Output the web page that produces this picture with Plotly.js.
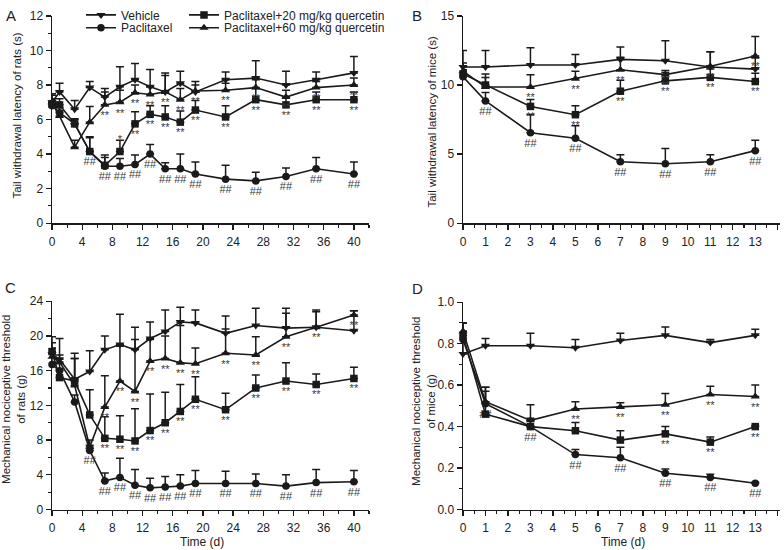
<!DOCTYPE html>
<html>
<head>
<meta charset="utf-8">
<script src="https://cdn.plot.ly/plotly-3.0.1.min.js"></script>
<style>html,body{margin:0;padding:0;background:#fff;}#chart{width:784px;height:550px;}</style>
</head>
<body>
<div id="chart"></div>
<script>
// ---------- DATA ----------
// Rats (panels A and C): days
const daysRats = [0, 1, 3, 5, 7, 9, 11, 13, 15, 17, 19, 23, 27, 31, 35, 40];
// Mice (panels B and D): days
const daysMice = [0, 1, 3, 5, 7, 9, 11, 13];

const seriesNames = ["Vehicle", "Paclitaxel", "Paclitaxel+20 mg/kg quercetin", "Paclitaxel+60 mg/kg quercetin"];

// Panel A: tail withdrawal latency of rats (s)
const aVehicle      = [7.0, 7.6, 6.6, 7.85, 7.3, 7.9, 8.3, 7.9, 7.6, 8.1, 7.6, 8.3, 8.4, 8.0, 8.3, 8.7];
const aVehicleErr   = [0.5, 0.5, 0.5, 0.35, 0.5, 1.15, 0.95, 1.0, 1.1, 0.7, 0.6, 0.45, 1.0, 0.8, 0.45, 0.95];
const aPaclitaxel   = [6.8, 6.4, 5.75, 4.15, 3.3, 3.3, 3.4, 4.0, 3.15, 3.15, 2.85, 2.55, 2.45, 2.7, 3.15, 2.85];
const aPaclitaxelErr= [0.3, 0.3, 0.3, 0.8, 0.5, 0.45, 0.55, 0.55, 0.35, 0.85, 0.7, 0.8, 0.5, 0.5, 0.65, 0.7];
const aQ20          = [6.9, 6.85, 5.75, 4.15, 3.35, 4.15, 5.75, 6.3, 6.15, 5.85, 6.55, 6.15, 7.15, 6.85, 7.15, 7.15];
const aQ20Err       = [0.3, 0.35, 0.25, 0.85, 0.6, 0.65, 0.7, 0.5, 0.65, 0.65, 0.55, 0.65, 0.65, 0.45, 0.45, 0.45];
const aQ60          = [7.0, 6.2, 4.4, 5.85, 6.85, 7.0, 7.55, 7.45, 7.6, 7.15, 7.65, 7.7, 7.85, 7.3, 7.85, 8.0];
const aQ60Err       = [0.4, 0.3, 0.4, 0.9, 0.75, 0.7, 0.45, 0.45, 0.95, 0.65, 0.35, 0.4, 0.45, 0.4, 0.35, 0.4];
const aSigPaclitaxel= ["", "", "", "##", "##", "##", "##", "##", "##", "##", "##", "##", "##", "##", "##", "##"];
const aSigQ20       = ["", "", "", "", "", "*", "**", "**", "**", "**", "**", "**", "**", "**", "**", "**"];
const aSigQ60       = ["", "", "", "", "**", "**", "**", "**", "**", "**", "**", "**", "**", "**", "**", "**"];

// Panel B: tail withdrawal latency of mice (s)
const bVehicle      = [11.3, 11.3, 11.45, 11.45, 11.85, 11.75, 11.3, 11.15];
const bVehicleErr   = [1.2, 1.2, 1.25, 0.75, 0.9, 1.45, 1.1, 0.8];
const bPaclitaxel   = [10.6, 8.85, 6.55, 6.15, 4.45, 4.3, 4.45, 5.25];
const bPaclitaxelErr= [0.5, 0.6, 1.3, 0.9, 0.5, 1.1, 0.5, 0.75];
const bQ20          = [10.8, 10.0, 8.45, 7.85, 9.55, 10.3, 10.55, 10.25];
const bQ20Err       = [0.6, 0.8, 0.5, 0.65, 0.8, 0.6, 0.6, 0.6];
const bQ60          = [11.0, 9.85, 9.85, 10.45, 11.1, 10.75, 11.35, 12.1];
const bQ60Err       = [0.6, 0.7, 0.9, 0.55, 0.9, 0.3, 1.05, 1.4];
const bSigPaclitaxel= ["", "##", "##", "##", "##", "##", "##", "##"];
const bSigQ20       = ["", "", "**", "**", "**", "**", "**", "**"];
const bSigQ60       = ["", "", "**", "**", "**", "**", "**", "**"];

// Panel C: mechanical nociceptive threshold of rats (g)
const cVehicle      = [17.9, 17.3, 15.0, 15.9, 18.4, 19.0, 18.4, 19.7, 20.5, 21.6, 21.5, 20.3, 21.2, 20.9, 21.0, 20.6];
const cVehicleErr   = [2.0, 2.4, 3.0, 2.4, 1.6, 3.5, 2.6, 1.9, 2.5, 1.7, 1.5, 2.0, 2.0, 2.3, 2.0, 2.3];
const cPaclitaxel   = [16.7, 16.0, 12.4, 6.8, 3.3, 3.7, 2.8, 2.5, 2.6, 2.7, 3.0, 3.0, 3.0, 2.7, 3.1, 3.2];
const cPaclitaxelErr= [0.8, 0.8, 0.8, 0.6, 0.9, 2.2, 1.8, 1.1, 1.2, 1.3, 1.5, 1.4, 1.1, 1.3, 1.5, 1.3];
const cQ20          = [18.2, 15.2, 14.8, 10.9, 8.2, 8.1, 7.9, 9.1, 10.0, 11.3, 12.7, 11.5, 14.0, 14.8, 14.4, 15.1];
const cQ20Err       = [1.0, 1.0, 2.6, 2.9, 2.5, 2.7, 3.7, 4.2, 3.5, 3.1, 2.6, 1.9, 1.5, 2.1, 1.2, 1.3];
const cQ60          = [17.6, 17.0, 14.3, 7.2, 11.8, 14.8, 13.6, 17.1, 17.4, 16.9, 16.8, 18.0, 17.8, 19.9, 21.0, 22.4];
const cQ60Err       = [1.0, 0.8, 3.1, 0.8, 3.6, 4.0, 6.0, 2.5, 2.6, 4.3, 1.8, 2.8, 2.1, 2.7, 1.8, 0.5];
const cSigPaclitaxel= ["", "", "", "##", "##", "##", "##", "##", "##", "##", "##", "##", "##", "##", "##", "##"];
const cSigQ20       = ["", "", "", "", "**", "**", "**", "**", "**", "**", "**", "**", "**", "**", "**", "**"];
const cSigQ60       = ["", "", "", "", "**", "**", "**", "**", "**", "**", "**", "**", "**", "**", "**", "**"];

// Panel D: mechanical nociceptive threshold of mice (g)
const dVehicle      = [0.75, 0.79, 0.79, 0.78, 0.815, 0.84, 0.805, 0.84];
const dVehicleErr   = [0.11, 0.035, 0.06, 0.04, 0.035, 0.04, 0.015, 0.03];
const dPaclitaxel   = [0.82, 0.51, 0.40, 0.265, 0.25, 0.175, 0.155, 0.127];
const dPaclitaxelErr= [0.08, 0.06, 0.03, 0.025, 0.05, 0.02, 0.015, 0.005];
const dQ20          = [0.84, 0.46, 0.40, 0.38, 0.335, 0.365, 0.325, 0.40];
const dQ20Err       = [0.06, 0.13, 0.04, 0.04, 0.045, 0.035, 0.025, 0.005];
const dQ60          = [0.86, 0.52, 0.43, 0.485, 0.495, 0.505, 0.555, 0.545];
const dQ60Err       = [0.04, 0.07, 0.075, 0.035, 0.02, 0.055, 0.04, 0.055];
const dSigPaclitaxel= ["", "##", "##", "##", "##", "##", "##", "##"];
const dSigQ20       = ["", "", "", "", "", "**", "**", "**"];
const dSigQ60       = ["", "", "", "**", "**", "**", "**", "**"];

// ---------- STYLE ----------
const FONT = "Arial, 'Liberation Sans', Helvetica, sans-serif";
const INK = "#1a1a1a";
const symbols = ["triangle-down", "circle", "square", "triangle-up"];
const sizes = [8, 7.5, 7.5, 8];
const legendOf = ["legend", "legend3", "legend2", "legend4"];

function series(idx, days, mean, err, sig, xa, ya, showLegend) {
  const s = sig || mean.map(() => "");
  return {
    type: "scatter",
    mode: "lines+markers+text",
    name: seriesNames[idx],
    x: days, y: mean,
    xaxis: xa, yaxis: ya,
    legend: legendOf[idx],
    showlegend: showLegend,
    cliponaxis: false,
    line: {color: INK, width: 1.6},
    marker: {symbol: symbols[idx], size: sizes[idx], color: INK, line: {width: 0}},
    error_y: {type: "data", symmetric: false, array: err, arrayminus: err.map(() => 0),
              color: INK, thickness: 1.5, width: 4},
    text: s,
    textposition: s.map(t => t === "*" ? "top center" : "bottom center"),
    textfont: {family: FONT, size: 11, color: "#3a3a3a"},
    hoverinfo: "x+y+name"
  };
}

const traces = [
  series(0, daysRats, aVehicle, aVehicleErr, null, "x", "y", true),
  series(1, daysRats, aPaclitaxel, aPaclitaxelErr, aSigPaclitaxel, "x", "y", true),
  series(2, daysRats, aQ20, aQ20Err, aSigQ20, "x", "y", true),
  series(3, daysRats, aQ60, aQ60Err, aSigQ60, "x", "y", true),

  series(0, daysMice, bVehicle, bVehicleErr, null, "x2", "y2", false),
  series(1, daysMice, bPaclitaxel, bPaclitaxelErr, bSigPaclitaxel, "x2", "y2", false),
  series(2, daysMice, bQ20, bQ20Err, bSigQ20, "x2", "y2", false),
  series(3, daysMice, bQ60, bQ60Err, bSigQ60, "x2", "y2", false),

  series(0, daysRats, cVehicle, cVehicleErr, null, "x3", "y3", false),
  series(1, daysRats, cPaclitaxel, cPaclitaxelErr, cSigPaclitaxel, "x3", "y3", false),
  series(2, daysRats, cQ20, cQ20Err, cSigQ20, "x3", "y3", false),
  series(3, daysRats, cQ60, cQ60Err, cSigQ60, "x3", "y3", false),

  series(0, daysMice, dVehicle, dVehicleErr, null, "x4", "y4", false),
  series(1, daysMice, dPaclitaxel, dPaclitaxelErr, dSigPaclitaxel, "x4", "y4", false),
  series(2, daysMice, dQ20, dQ20Err, dSigQ20, "x4", "y4", false),
  series(3, daysMice, dQ60, dQ60Err, dSigQ60, "x4", "y4", false)
];

function axis(extra) {
  return Object.assign({
    showline: true, linecolor: INK, linewidth: 1.5,
    ticks: "outside", ticklen: 5, tickwidth: 1.3, tickcolor: INK,
    showgrid: false, zeroline: false,
    tickfont: {family: FONT, size: 12, color: "#222"},
    fixedrange: true
  }, extra);
}
function minor(dt) {
  return {dtick: dt, ticks: "outside", ticklen: 3, tickwidth: 1.1, tickcolor: INK, showgrid: false};
}

const W = 784, H = 550;
const px = v => v / W;
const py = v => 1 - v / H;

function legendAt(xPx, yPx) {
  return {x: px(xPx), y: py(yPx), xanchor: "left", yanchor: "middle", bgcolor: "rgba(0,0,0,0)",
          font: {family: FONT, size: 12, color: "#222"}, tracegroupgap: 0, itemwidth: 30,
          borderwidth: 0};
}
function label(text, xPx, yPx, size, angle) {
  return {text: text, x: px(xPx), y: py(yPx), xref: "paper", yref: "paper",
          xanchor: "center", yanchor: "middle", showarrow: false, textangle: angle || 0,
          font: {family: FONT, size: size, color: "#222"}};
}

const layout = {
  width: W, height: H,
  margin: {l: 0, r: 0, t: 0, b: 0},
  paper_bgcolor: "#fff", plot_bgcolor: "#fff",
  font: {family: FONT, color: "#222"},
  xaxis:  axis({domain: [px(52), px(369)], range: [0, 42], tick0: 0, dtick: 4, anchor: "y", minor: minor(2), ticklabelstandoff: 2}),
  yaxis:  axis({domain: [py(219), py(9)], range: [0, 12], tick0: 0, dtick: 2, anchor: "x", minor: minor(1)}),
  xaxis2: axis({domain: [px(463), px(780)], range: [0, 14.1], tick0: 0, dtick: 1, anchor: "y2", minor: minor(0.5), ticklabelstandoff: 2}),
  yaxis2: axis({domain: [py(219), py(9)], range: [0, 15], tick0: 0, dtick: 5, anchor: "x2"}),
  xaxis3: axis({domain: [px(52), px(369)], range: [0, 42], tick0: 0, dtick: 4, anchor: "y3", minor: minor(2), ticklabelstandoff: 2}),
  yaxis3: axis({domain: [py(509), py(298)], range: [0, 24], tick0: 0, dtick: 4, anchor: "x3", minor: minor(2)}),
  xaxis4: axis({domain: [px(463), px(780)], range: [0, 14.1], tick0: 0, dtick: 1, anchor: "y4", minor: minor(0.5), ticklabelstandoff: 2}),
  yaxis4: axis({domain: [py(509), py(299)], range: [0, 1], tick0: 0, dtick: 0.2, tickformat: ".1f", anchor: "x4", minor: minor(0.1)}),
  legend:  legendAt(81, 8),
  legend3: legendAt(81, 21),
  legend2: legendAt(184, 8),
  legend4: legendAt(184, 21),
  annotations: [
    label("A", 11, 9, 15),
    label("B", 417, 9, 15),
    label("C", 10, 284, 15),
    label("D", 417, 285, 15),
    label("Tail withdrawal latency of rats (s)", 17, 110, 11.5, -90),
    label("Tail withdrawal latency of mice (s)", 432, 116, 11.5, -90),
    label("Mechanical nociceptive threshold<br>of rats (g)", 14, 398, 11.5, -90),
    label("Mechanical nociceptive threshold<br>of mice (g)", 424, 400, 11.5, -90),
    label("Time (d)", 202, 542, 12),
    label("Time (d)", 623, 542, 12)
  ]
};

Plotly.newPlot("chart", traces, layout, {displayModeBar: false, staticPlot: true});
</script>
</body>
</html>
